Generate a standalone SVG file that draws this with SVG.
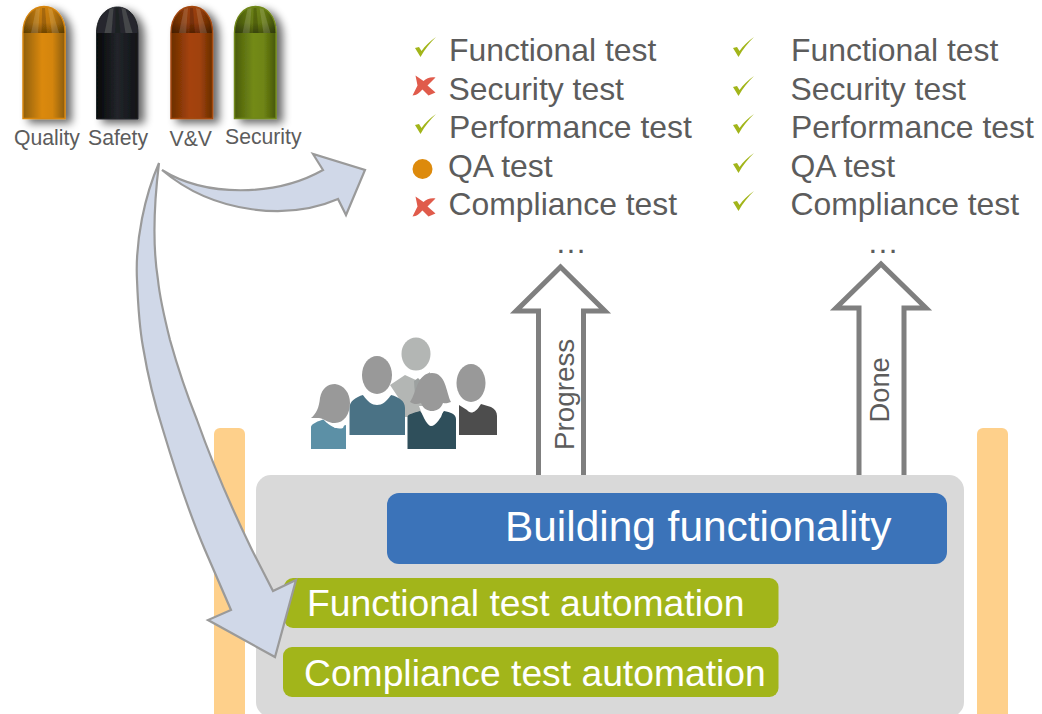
<svg xmlns="http://www.w3.org/2000/svg" width="1042" height="714" viewBox="0 0 1042 714">
<style>
text{font-family:"Liberation Sans",Arial,sans-serif;fill:#5c5c5c}
.li{font-size:31.9px}
.lb{font-size:21.2px}
.bar{fill:#fed08b}
.up{fill:#fff;stroke:#7f7f7f;stroke-width:5;stroke-linejoin:miter}
.big{fill:#d0d8e8;stroke:#9a9a9a;stroke-width:2.2;stroke-linejoin:miter}
.wt{fill:#fff}
.ok{fill:#a2b51a}
.no{fill:#e05b4b}
.hd{fill:#999}
.dome{fill:url(#shade)}
</style>
<defs>
<filter id="sh" x="-40%" y="-20%" width="200%" height="140%"><feGaussianBlur in="SourceAlpha" stdDeviation="4"/><feOffset dx="6" dy="4"/><feComponentTransfer><feFuncA type="linear" slope=".6"/></feComponentTransfer><feMerge><feMergeNode/><feMergeNode in="SourceGraphic"/></feMerge></filter>
<linearGradient id="q"><stop offset="0" stop-color="#8f5f08"/><stop offset=".45" stop-color="#db890b"/><stop offset=".7" stop-color="#d48508"/><stop offset="1" stop-color="#8a5c08"/></linearGradient>
<linearGradient id="s"><stop offset="0" stop-color="#050608"/><stop offset=".5" stop-color="#22252a"/><stop offset="1" stop-color="#111317"/></linearGradient>
<linearGradient id="v"><stop offset="0" stop-color="#6b2e02"/><stop offset=".45" stop-color="#a5430a"/><stop offset=".7" stop-color="#a0420a"/><stop offset="1" stop-color="#672d02"/></linearGradient>
<linearGradient id="g"><stop offset="0" stop-color="#4a5c0c"/><stop offset=".45" stop-color="#738a16"/><stop offset=".7" stop-color="#6f8514"/><stop offset="1" stop-color="#465709"/></linearGradient>
<linearGradient id="shade" x1="0" y1="0" x2="0" y2="1"><stop offset="0" stop-color="#000" stop-opacity=".05"/><stop offset=".6" stop-color="#000" stop-opacity=".12"/><stop offset="1" stop-color="#000" stop-opacity=".38"/></linearGradient>
<path id="chk" d="M1 12L5 11L7.500 15C11 10 16 5 22 1C16 7 11 13 6.500 21Z"/>
<path id="crs" d="M3 0L11 5.500C14 3 18 1 23 2L15 10L23 17L16 20L10 14C7 17 4 20 0 20L5 10Z"/>
<g id="ribs"><path d="M-8 2L-13 26L-6 26L-4 1Z" fill="#fff" opacity=".14"/><path d="M4 1L8 26L15 26L8 2Z" fill="#fff" opacity=".14"/><path d="M-2 1L-2.500 26L3 26L1 1Z" fill="#000" opacity=".18"/></g>
</defs>

<g id="bullet-quality" filter="url(#sh)">
<path d="M23 118.500V33C23 16 33 6.500 44 6.500S65 16 65 33V118.500Z" fill="url(#q)" stroke="#d8860a" stroke-width="1.500"/>
<path class="dome" d="M23.500 33C23.500 16 33 7 44 7S64.500 16 64.500 33Z"/>
<use href="#ribs" x="44" y="7"/>
</g>
<g id="bullet-safety" filter="url(#sh)">
<path d="M96.500 119V33C96.500 16 107 7 117.500 7S138 16 138 33V119Z" fill="url(#s)" stroke="#24262b" stroke-width="1"/>
<path d="M97 33C97 16 107 7.500 117.500 7.500S137.500 16 137.500 33Z" fill="#26282d"/>
<use href="#ribs" x="117.500" y="7"/>
</g>
<g id="bullet-vv" filter="url(#sh)">
<path d="M171 118.500V33C171 16 181 6.500 192 6.500S212.500 16 212.500 33V118.500Z" fill="url(#v)" stroke="#a5480f" stroke-width="1.500"/>
<path class="dome" d="M171.500 33C171.500 16 181 7 192 7S212 16 212 33Z"/>
<use href="#ribs" x="192" y="7"/>
</g>
<g id="bullet-security" filter="url(#sh)">
<path d="M234.500 118.500V33C234.500 16 244.500 6.500 255.500 6.500S276 16 276 33V118.500Z" fill="url(#g)" stroke="#71891a" stroke-width="1.500"/>
<path class="dome" d="M235 33C235 16 244.500 7 255.500 7S275.500 16 275.500 33Z"/>
<use href="#ribs" x="255.500" y="7"/>
</g>
<g id="bullet-labels">
<text class="lb" x="14" y="145">Quality</text>
<text class="lb" x="88" y="145">Safety</text>
<text class="lb" x="169.500" y="146">V&amp;V</text>
<text class="lb" x="225" y="144">Security</text>
</g>

<g id="list-left">
<use href="#chk" class="ok" x="414" y="36"/>
<use href="#crs" class="no" x="412.500" y="75.500"/>
<use href="#chk" class="ok" x="414" y="113"/>
<circle cx="422.500" cy="169" r="10" fill="#dd8a0c"/>
<use href="#crs" class="no" x="412.500" y="196.500"/>
<text class="li" x="449" y="61">Functional test</text>
<text class="li" x="448.500" y="100">Security test</text>
<text class="li" x="449" y="138">Performance test</text>
<text class="li" x="448" y="177">QA test</text>
<text class="li" x="448.500" y="215">Compliance test</text>
<text class="li" x="555" y="253">…</text>
</g>
<g id="list-right">
<use href="#chk" class="ok" x="732" y="36"/>
<use href="#chk" class="ok" x="732" y="75"/>
<use href="#chk" class="ok" x="732" y="113"/>
<use href="#chk" class="ok" x="732" y="152"/>
<use href="#chk" class="ok" x="732" y="190"/>
<text class="li" x="791" y="61">Functional test</text>
<text class="li" x="790.500" y="100">Security test</text>
<text class="li" x="791" y="138">Performance test</text>
<text class="li" x="790.500" y="177">QA test</text>
<text class="li" x="790.500" y="215">Compliance test</text>
<text class="li" x="867" y="253">…</text>
</g>

<g id="team">
<path d="M390 385L405 375L418 381L430 372L428 417H405L400 400Z" fill="#b3b6b4"/>
<path d="M414 381L418 378L421 381L419 396H415Z" fill="#9da1a0"/>
<ellipse cx="416" cy="354" rx="14.500" ry="16.500" fill="#b3b6b4"/>
<path d="M349.500 435V408C349.500 401 356 397 363 395L377 403L391 395C399 397 405 401 405 408V435Z" fill="#4a7285"/>
<path d="M363 395C368 391 386 391 391 395C386 402 382 405 377 405S368 402 363 395Z" class="wt"/>
<ellipse cx="377" cy="375" rx="15" ry="19" class="hd"/>
<path d="M311 449V427C311 424 318 421 325 419L335 428L346 425V449Z" fill="#5c90a6"/>
<path d="M322 418L334 424L346 421L343 428C337 430 329 426 322 418Z" class="wt"/>
<path d="M311 418C316 414 319 408 320 398C322 388 328 384 335 384C344 385 350 393 350 403C350 414 344 423 335 423C327 423 322 417 318 418Z" class="hd"/>
<path d="M407.500 449V417C407.500 414 414 413 420 411L432 426L444 411C450 412 456 414 456 419V449Z" fill="#2f4f5b"/>
<path d="M419 406L445 406L441 417C437 423 434 426 431 426S424 420 419 406Z" class="wt"/>
<path d="M410 402C417 392 417 373 432 373C446 373 446 392 451 402C446 404 444 403 443 403C441 409 436 411 432 411C428 411 423 409 421 403C417 405 413 404 410 402Z" class="hd"/>
<path d="M459 435V405L467 410C470 414 475 414 481 404L491 407C495 409 497 412 497 416V435Z" fill="#4d4d4d"/>
<ellipse cx="471" cy="383" rx="14.500" ry="19" class="hd"/>
</g>

<g id="arrow-progress"><path class="up" d="M538.500 478V311H516L560.500 267L605 311H583.500V478Z"/><text transform="translate(574 450) rotate(-90)" style="font-size:27.800px">Progress</text></g>
<g id="arrow-done"><path class="up" d="M859 478V308H836L881 264L926 308H904V478Z"/><text transform="translate(889 422.500) rotate(-90)" style="font-size:27.300px">Done</text></g>

<g id="bar-left"><rect class="bar" x="214" y="428" width="31" height="300" rx="6"/></g>
<g id="bar-right"><rect class="bar" x="977" y="428" width="31" height="300" rx="6"/></g>
<g id="panel"><rect x="256" y="475" width="708" height="242" rx="15" fill="#d9d9d9"/></g>
<g id="building"><rect x="387" y="493" width="560" height="71" rx="12" fill="#3b73b9"/><text x="505" y="541" style="font-size:42.400px;fill:#fff">Building functionality</text></g>
<g id="functional-automation"><rect x="284" y="578" width="494.500" height="50" rx="9" fill="#a2b51a"/><text x="307" y="616" style="font-size:37.300px;fill:#fff">Functional test automation</text></g>
<g id="compliance-automation"><rect x="283" y="647" width="495.500" height="50" rx="9" fill="#a2b51a"/><text x="304" y="686" style="font-size:37.250px;fill:#fff">Compliance test automation</text></g>

<g id="connectors">
<path class="big" d="M162 170C205 197 275 197 323 170L313 154L365 170L346 215L338 199C290 220 215 215 162 170Z"/>
<path class="big" d="M159 163C145 195 135 240 137 280C138 305 139 325 143 347C148 377 155 405 163 430C175 470 190 515 205 550L231 610L208 620L275 657L296 580L273 591L252 550C235 515 213 465 197 420C187 395 177 365 170 340C165 320 160 300 158 280C154 255 152 220 159 163Z"/>
</g>
</svg>
